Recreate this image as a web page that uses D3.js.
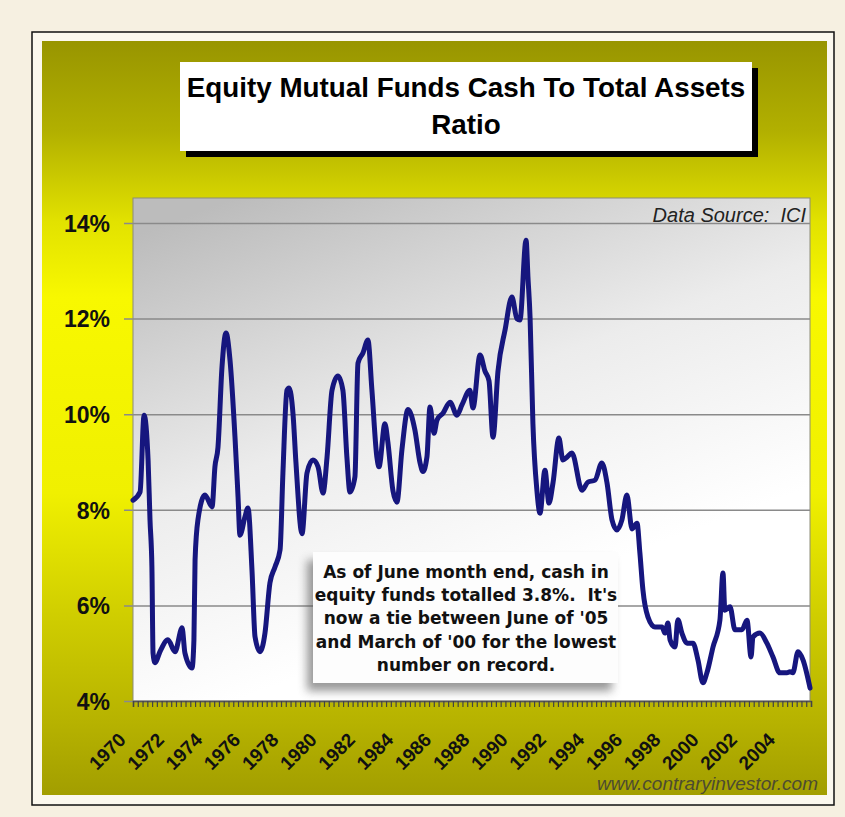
<!DOCTYPE html>
<html>
<head>
<meta charset="utf-8">
<script src="https://cdn.jsdelivr.net/npm/d3@7"></script>
<style>
  html, body { margin: 0; padding: 0; background: #f6f0e1; }
  svg { display: block; }
</style>
</head>
<body>
<svg id="chart" width="845" height="817"></svg>
<script>
// Equity mutual funds: cash as a share of total assets (%), 1970 - mid 2005
const dates = [
  1970.00, 1970.37, 1970.58, 1970.79, 1970.89, 1970.99, 1971.05, 1971.15, 1971.41, 1971.83,
  1972.20, 1972.57, 1972.72, 1973.09, 1973.19, 1973.25, 1973.40, 1973.77, 1974.14, 1974.29,
  1974.45, 1974.66, 1974.87, 1975.08, 1975.34, 1975.50, 1975.60, 1975.86, 1976.02, 1976.23,
  1976.39, 1976.65, 1976.91, 1977.17, 1977.43, 1977.70, 1977.85, 1978.06, 1978.17, 1978.38,
  1978.53, 1978.85, 1979.11, 1979.42, 1979.69, 1979.95, 1980.16, 1980.42, 1980.73, 1980.99,
  1981.20, 1981.36, 1981.62, 1981.78, 1982.04, 1982.30, 1982.51, 1982.77, 1982.88, 1983.19,
  1983.35, 1983.61, 1983.82, 1984.08, 1984.40, 1984.76, 1985.03, 1985.18, 1985.39, 1985.55,
  1985.76, 1985.92, 1986.23, 1986.60, 1986.96, 1987.23, 1987.64, 1987.80, 1988.17, 1988.43,
  1988.64, 1988.85, 1989.11, 1989.48, 1989.84, 1990.10, 1990.26, 1990.58, 1990.68, 1990.79,
  1990.94, 1991.15, 1991.31, 1991.57, 1991.78, 1991.99, 1992.30, 1992.51, 1992.72, 1992.98,
  1993.51, 1993.82, 1994.19, 1994.55, 1994.82, 1995.08, 1995.34, 1995.60, 1995.86, 1996.13,
  1996.39, 1996.54, 1996.70, 1996.96, 1997.33, 1997.70, 1997.85, 1998.01, 1998.12, 1998.38,
  1998.53, 1998.74, 1999.01, 1999.32, 1999.58, 1999.84, 2000.05, 2000.37, 2000.73, 2000.89,
  2000.99, 2001.26, 2001.52, 2001.88, 2002.15, 2002.36, 2002.46, 2002.83, 2003.19, 2003.51,
  2003.87, 2004.24, 2004.40, 2004.55, 2004.82, 2005.08, 2005.45
];
const cashRatio = [
  8.20, 8.37, 9.98, 9.04, 7.79, 6.80, 5.00, 4.80, 5.03, 5.28,
  5.03, 5.53, 5.00, 4.69, 5.28, 6.95, 7.79, 8.31, 8.06, 8.90,
  9.31, 10.99, 11.70, 11.13, 9.52, 8.27, 7.47, 7.85, 8.04, 6.74,
  5.34, 5.03, 5.42, 6.47, 6.80, 7.16, 8.77, 10.50, 10.55, 10.00,
  9.00, 7.50, 8.77, 9.04, 8.90, 8.35, 9.10, 10.50, 10.80, 10.50,
  9.10, 8.37, 8.69, 11.07, 11.28, 11.55, 10.50, 9.10, 8.90, 9.80,
  9.40, 8.40, 8.16, 9.25, 10.10, 9.67, 8.98, 8.80, 9.10, 10.15,
  9.60, 9.88, 10.02, 10.25, 9.98, 10.20, 10.50, 10.13, 11.24, 10.90,
  10.70, 9.52, 10.90, 11.76, 12.45, 12.00, 11.97, 13.64, 12.87, 12.03,
  9.80, 8.40, 7.93, 8.83, 8.14, 8.56, 9.50, 9.04, 9.10, 9.19,
  8.41, 8.58, 8.62, 8.98, 8.56, 7.79, 7.58, 7.79, 8.31, 7.60,
  7.72, 7.10, 6.32, 5.76, 5.55, 5.55, 5.42, 5.63, 5.28, 5.13,
  5.70, 5.42, 5.21, 5.21, 4.86, 4.38, 4.59, 5.13, 5.69, 6.68,
  5.90, 5.97, 5.49, 5.49, 5.69, 4.92, 5.34, 5.42, 5.21, 4.92,
  4.59, 4.59, 4.61, 4.59, 5.03, 4.86, 4.27
];
const yTicks = [4, 6, 8, 10, 12, 14];
const yearLabels = ["1970", "1972", "1974", "1976", "1978", "1980", "1982", "1984", "1986",
  "1988", "1990", "1992", "1994", "1996", "1998", "2000", "2002", "2004"];
const titleLines = ["Equity Mutual Funds Cash To Total Assets", "Ratio"];
const noteLines = [
  "As of June month end, cash in",
  "equity funds totalled 3.8%.  It's",
  "now a tie between June of '05",
  "and March of '00 for the lowest",
  "number on record."
];
const sourceText = "Data Source:  ICI";
const siteText = "www.contraryinvestor.com";

const svg = d3.select("#chart");
const defs = svg.append("defs");

// panel and plot backgrounds
const panelGrad = defs.append("linearGradient").attr("id", "panelGrad")
  .attr("x1", 0).attr("y1", 0).attr("x2", 0).attr("y2", 1);
[[0, "#989500"], [0.12, "#b2b000"], [0.24, "#e2e200"], [0.34, "#f8f800"], [0.6, "#f0f000"],
 [0.76, "#d0ce00"], [0.9, "#b7b300"], [1, "#a29e00"]]
  .forEach(([o, c]) => panelGrad.append("stop").attr("offset", o).attr("stop-color", c));

const plotGrad = defs.append("linearGradient").attr("id", "plotGrad")
  .attr("x1", 0.15).attr("y1", 0).attr("x2", 0.55).attr("y2", 0.8);
[[0, "#bcbcbc"], [0.55, "#ececec"], [1, "#ffffff"]]
  .forEach(([o, c]) => plotGrad.append("stop").attr("offset", o).attr("stop-color", c));

const blur = defs.append("filter").attr("id", "soft")
  .attr("x", -0.2).attr("y", -0.2).attr("width", 1.4).attr("height", 1.4);
blur.append("feGaussianBlur").attr("stdDeviation", 5);

// outer frame
svg.append("rect").attr("x", 32).attr("y", 32).attr("width", 802).attr("height", 773)
  .attr("fill", "#fbf8ee").attr("stroke", "#111").attr("stroke-width", 1.5);
svg.append("rect").attr("x", 42).attr("y", 41).attr("width", 785).attr("height", 754)
  .attr("fill", "url(#panelGrad)");

// title box with hard drop shadow
svg.append("rect").attr("x", 186).attr("y", 68).attr("width", 572).attr("height", 89).attr("fill", "#000");
svg.append("rect").attr("x", 180).attr("y", 62).attr("width", 572).attr("height", 89).attr("fill", "#fff");
svg.append("g").selectAll("text").data(titleLines).join("text")
  .attr("x", 466).attr("y", (d, i) => 97 + i * 37)
  .attr("text-anchor", "middle")
  .attr("font-family", "Liberation Sans, Arial, sans-serif")
  .attr("font-weight", "bold").attr("font-size", 27.8).attr("fill", "#000")
  .text(d => d);

// scales
const plot = { left: 133, right: 810, top: 198, bottom: 701 };
const x = d3.scaleLinear().domain([1970, 2005.5]).range([133, 811]);
const y = d3.scaleLinear().domain([4, 14]).range([701, 223]);

svg.append("rect").attr("x", plot.left).attr("y", plot.top)
  .attr("width", plot.right - plot.left).attr("height", plot.bottom - plot.top)
  .attr("fill", "url(#plotGrad)").attr("stroke", "#8c8c78").attr("stroke-width", 1);

// gridlines and y axis
const yAxis = d3.axisLeft(y).tickValues(yTicks).tickSize(plot.right - plot.left + 9)
  .tickPadding(14).tickFormat(d => d + "%");
const gy = svg.append("g").attr("transform", `translate(${plot.right},0)`).call(yAxis);
gy.select(".domain").remove();
gy.selectAll(".tick line").attr("stroke", "#8a8a8a").attr("stroke-width", 1.5);
gy.selectAll(".tick text")
  .attr("font-family", "Liberation Sans, Arial, sans-serif")
  .attr("font-weight", "bold").attr("font-size", 23).attr("fill", "#111")
  .attr("dy", "0.36em");

// x axis: quarterly ticks, labels every other year
const quarterTicks = d3.range(0, 143).map(i => 1970 + i / 4);
const xAxis = d3.axisBottom(x).tickValues(quarterTicks).tickSize(6).tickFormat("");
const gx = svg.append("g").attr("transform", `translate(0,${plot.bottom})`).call(xAxis);
gx.select(".domain").attr("stroke", "#555").attr("stroke-width", 1.5);
gx.selectAll(".tick line").attr("stroke", "#444").attr("stroke-width", 1.2);

svg.append("g").selectAll("text").data(yearLabels).join("text")
  .attr("transform", d => `translate(${x(+d) - 6},741) rotate(-45)`)
  .attr("text-anchor", "end")
  .attr("font-family", "Liberation Sans, Arial, sans-serif")
  .attr("font-weight", "bold").attr("font-size", 19).attr("fill", "#111")
  .text(d => d);

// data line
const series = dates.map((d, i) => ({ date: d, value: cashRatio[i] }));
const line = d3.line().curve(d3.curveMonotoneX).x(d => x(d.date)).y(d => y(d.value));
svg.append("path").datum(series)
  .attr("d", line)
  .attr("fill", "none").attr("stroke", "#16167e").attr("stroke-width", 5)
  .attr("stroke-linejoin", "round").attr("stroke-linecap", "round");

// source note
svg.append("text").attr("x", 806).attr("y", 222).attr("text-anchor", "end")
  .attr("font-family", "Liberation Sans, Arial, sans-serif")
  .attr("font-style", "italic").attr("font-size", 20).attr("fill", "#222")
  .attr("xml:space", "preserve")
  .text(sourceText);

// annotation box with soft shadow
svg.append("rect").attr("x", 307).attr("y", 560).attr("width", 305).attr("height", 131)
  .attr("fill", "#555").attr("opacity", 0.6).attr("filter", "url(#soft)");
svg.append("rect").attr("x", 313).attr("y", 552).attr("width", 305).attr("height", 131)
  .attr("fill", "#fdfdfd");
svg.append("g").selectAll("text").data(noteLines).join("text")
  .attr("x", 466).attr("y", (d, i) => 578 + i * 23.2)
  .attr("text-anchor", "middle")
  .attr("font-family", "DejaVu Sans, Verdana, sans-serif")
  .attr("font-weight", "bold").attr("font-size", 17).attr("fill", "#111")
  .attr("xml:space", "preserve")
  .text(d => d);

// site credit
svg.append("text").attr("x", 818).attr("y", 790).attr("text-anchor", "end")
  .attr("font-family", "Liberation Sans, Arial, sans-serif")
  .attr("font-style", "italic").attr("font-size", 19).attr("fill", "#4d4b30")
  .text(siteText);
</script>
</body>
</html>
